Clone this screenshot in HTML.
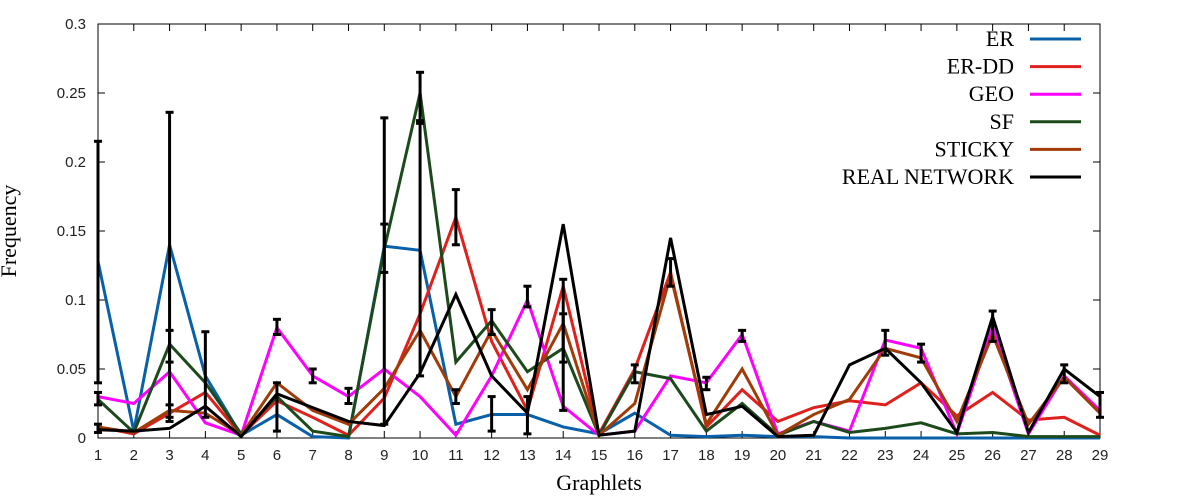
<!DOCTYPE html>
<html><head><meta charset="utf-8"><style>
body{margin:0;background:#fff}
svg{display:block}
.tk{font-family:"Liberation Sans",sans-serif;font-size:15px;fill:#222}
.lb{font-family:"Liberation Serif",serif;font-size:22px;fill:#000}
</style></head><body>
<svg id="c" width="1200" height="500"></svg>
<script>
const categories=[1,2,3,4,5,6,7,8,9,10,11,12,13,14,15,16,17,18,19,20,21,22,23,24,25,26,27,28,29];
const yTicks=[0,0.05,0.1,0.15,0.2,0.25,0.3];
const yTickLabels=["0","0.05","0.1","0.15","0.2","0.25","0.3"];
const seriesNames=["ER","ER-DD","GEO","SF","STICKY","REAL NETWORK"];
const seriesColors=["#0860a8","#e0201c","#ff00ff","#1c4a1c","#a03c08","#000000"];
const erVals=[0.128,0.005,0.14,0.045,0.002,0.017,0.001,0,0.139,0.136,0.01,0.017,0.017,0.008,0.003,0.018,0.002,0.001,0.002,0.001,0.001,0,0,0,0,0,0,0,0];
const erddVals=[0.008,0.003,0.018,0.033,0.002,0.027,0.015,0.002,0.029,0.09,0.16,0.07,0.02,0.11,0.003,0.05,0.12,0.008,0.035,0.012,0.022,0.027,0.024,0.04,0.016,0.033,0.013,0.015,0.002];
const geoVals=[0.03,0.025,0.048,0.011,0.002,0.08,0.045,0.03,0.05,0.03,0.002,0.045,0.1,0.023,0.002,0.005,0.045,0.04,0.075,0.003,0.012,0.005,0.071,0.065,0.003,0.08,0.003,0.045,0.02];
const sfVals=[0.028,0.004,0.068,0.04,0.003,0.03,0.005,0.001,0.137,0.25,0.055,0.085,0.048,0.065,0.002,0.048,0.043,0.005,0.025,0.002,0.012,0.004,0.007,0.011,0.003,0.004,0.001,0.001,0.001];
const stickyVals=[0.008,0.004,0.02,0.018,0.002,0.04,0.02,0.01,0.036,0.078,0.03,0.078,0.035,0.083,0.002,0.025,0.118,0.01,0.05,0.002,0.017,0.028,0.065,0.058,0.012,0.075,0.01,0.044,0.018];
const realVals=[0.006,0.005,0.007,0.023,0.001,0.032,0.022,0.012,0.009,0.047,0.104,0.045,0.018,0.155,0.002,0.005,0.145,0.017,0.023,0.001,0.002,0.053,0.065,0.04,0.004,0.088,0.004,0.05,0.03];
const allSeries=[erVals,erddVals,geoVals,sfVals,stickyVals,realVals];
// error bars: [category, low, high]
const errCats=[1,1,1,3,3,3,4,6,6,7,8,9,9,10,10,11,11,12,12,13,13,14,14,16,17,18,19,23,24,26,28,29];
const errLow=[0.04,0.024,0.004,0.055,0.012,0.015,0.015,0.005,0.075,0.04,0.025,0.01,0.12,0.045,0.23,0.14,0.025,0.005,0.075,0.003,0.095,0.055,0.02,0.04,0.11,0.035,0.07,0.06,0.055,0.07,0.04,0.015];
const errHigh=[0.215,0.033,0.01,0.236,0.024,0.078,0.077,0.04,0.086,0.05,0.036,0.232,0.155,0.228,0.265,0.18,0.035,0.03,0.093,0.03,0.11,0.09,0.115,0.053,0.13,0.044,0.078,0.078,0.068,0.092,0.053,0.033];

const NS="http://www.w3.org/2000/svg";
const svg=document.getElementById('c');
const L=98,R=1100,T=24,B=438;
const xs=c=>L+(c-1)*(R-L)/28;
const ys=v=>B-v/0.3*(B-T);
function mk(t,a,p){const e=document.createElementNS(NS,t);for(const k in a)e.setAttribute(k,a[k]);(p||svg).appendChild(e);return e;}

const frame=mk('rect',{x:L,y:T,width:R-L,height:B-T,fill:'none',stroke:'#000','stroke-width':1});


yTicks.forEach((v,i)=>{
  const y=ys(v);
  const t=mk('line',{x1:L,y1:y,x2:L+7,y2:y,stroke:'#000'});
  
  
  mk('line',{x1:R,y1:y,x2:R-7,y2:y,stroke:'#000'});
  const tx=mk('text',{x:L-12,y:y+5,'text-anchor':'end',class:'tk'});
  tx.textContent=yTickLabels[i];
  
  
});
categories.forEach(c=>{
  const x=xs(c);
  mk('line',{x1:x,y1:B,x2:x,y2:B-7,stroke:'#000'});
  mk('line',{x1:x,y1:T,x2:x,y2:T+7,stroke:'#000'});
  const tx=mk('text',{x:x,y:B+22,'text-anchor':'middle',class:'tk'});
  tx.textContent=c;
  
  
});
const xt=mk('text',{x:(L+R)/2,y:490,'text-anchor':'middle',class:'lb'});
xt.textContent='Graphlets';


const yt=mk('text',{x:16,y:231,'text-anchor':'middle',class:'lb',transform:'rotate(-90 16 231)'});
yt.textContent='Frequency';



allSeries.forEach((vals,si)=>{
  const pts=vals.map((v,i)=>xs(categories[i])+','+ys(v)).join(' ');
  const pl=mk('polyline',{points:pts,fill:'none',stroke:seriesColors[si],'stroke-width':3,'stroke-linejoin':'miter'});
  
  
});
errCats.forEach((c,i)=>{
  const x=xs(c),y1=ys(errLow[i]),y2=ys(errHigh[i]);
  const g=mk('g',{stroke:'#000','stroke-width':3});
  
  
  mk('line',{x1:x,y1:y1,x2:x,y2:y2},g);
  mk('line',{x1:x-4,y1:y1,x2:x+4,y2:y1},g);
  mk('line',{x1:x-4,y1:y2,x2:x+4,y2:y2},g);
});
seriesNames.forEach((n,i)=>{
  const y=39+i*27.6;
  const g=mk('g',{});
  
  
  const t=mk('text',{x:1014,y:y+7,'text-anchor':'end',class:'lb'},g);
  t.textContent=n;
  mk('line',{x1:1030,y1:y,x2:1081,y2:y,stroke:seriesColors[i],'stroke-width':3},g);
});
</script>
</body></html>
